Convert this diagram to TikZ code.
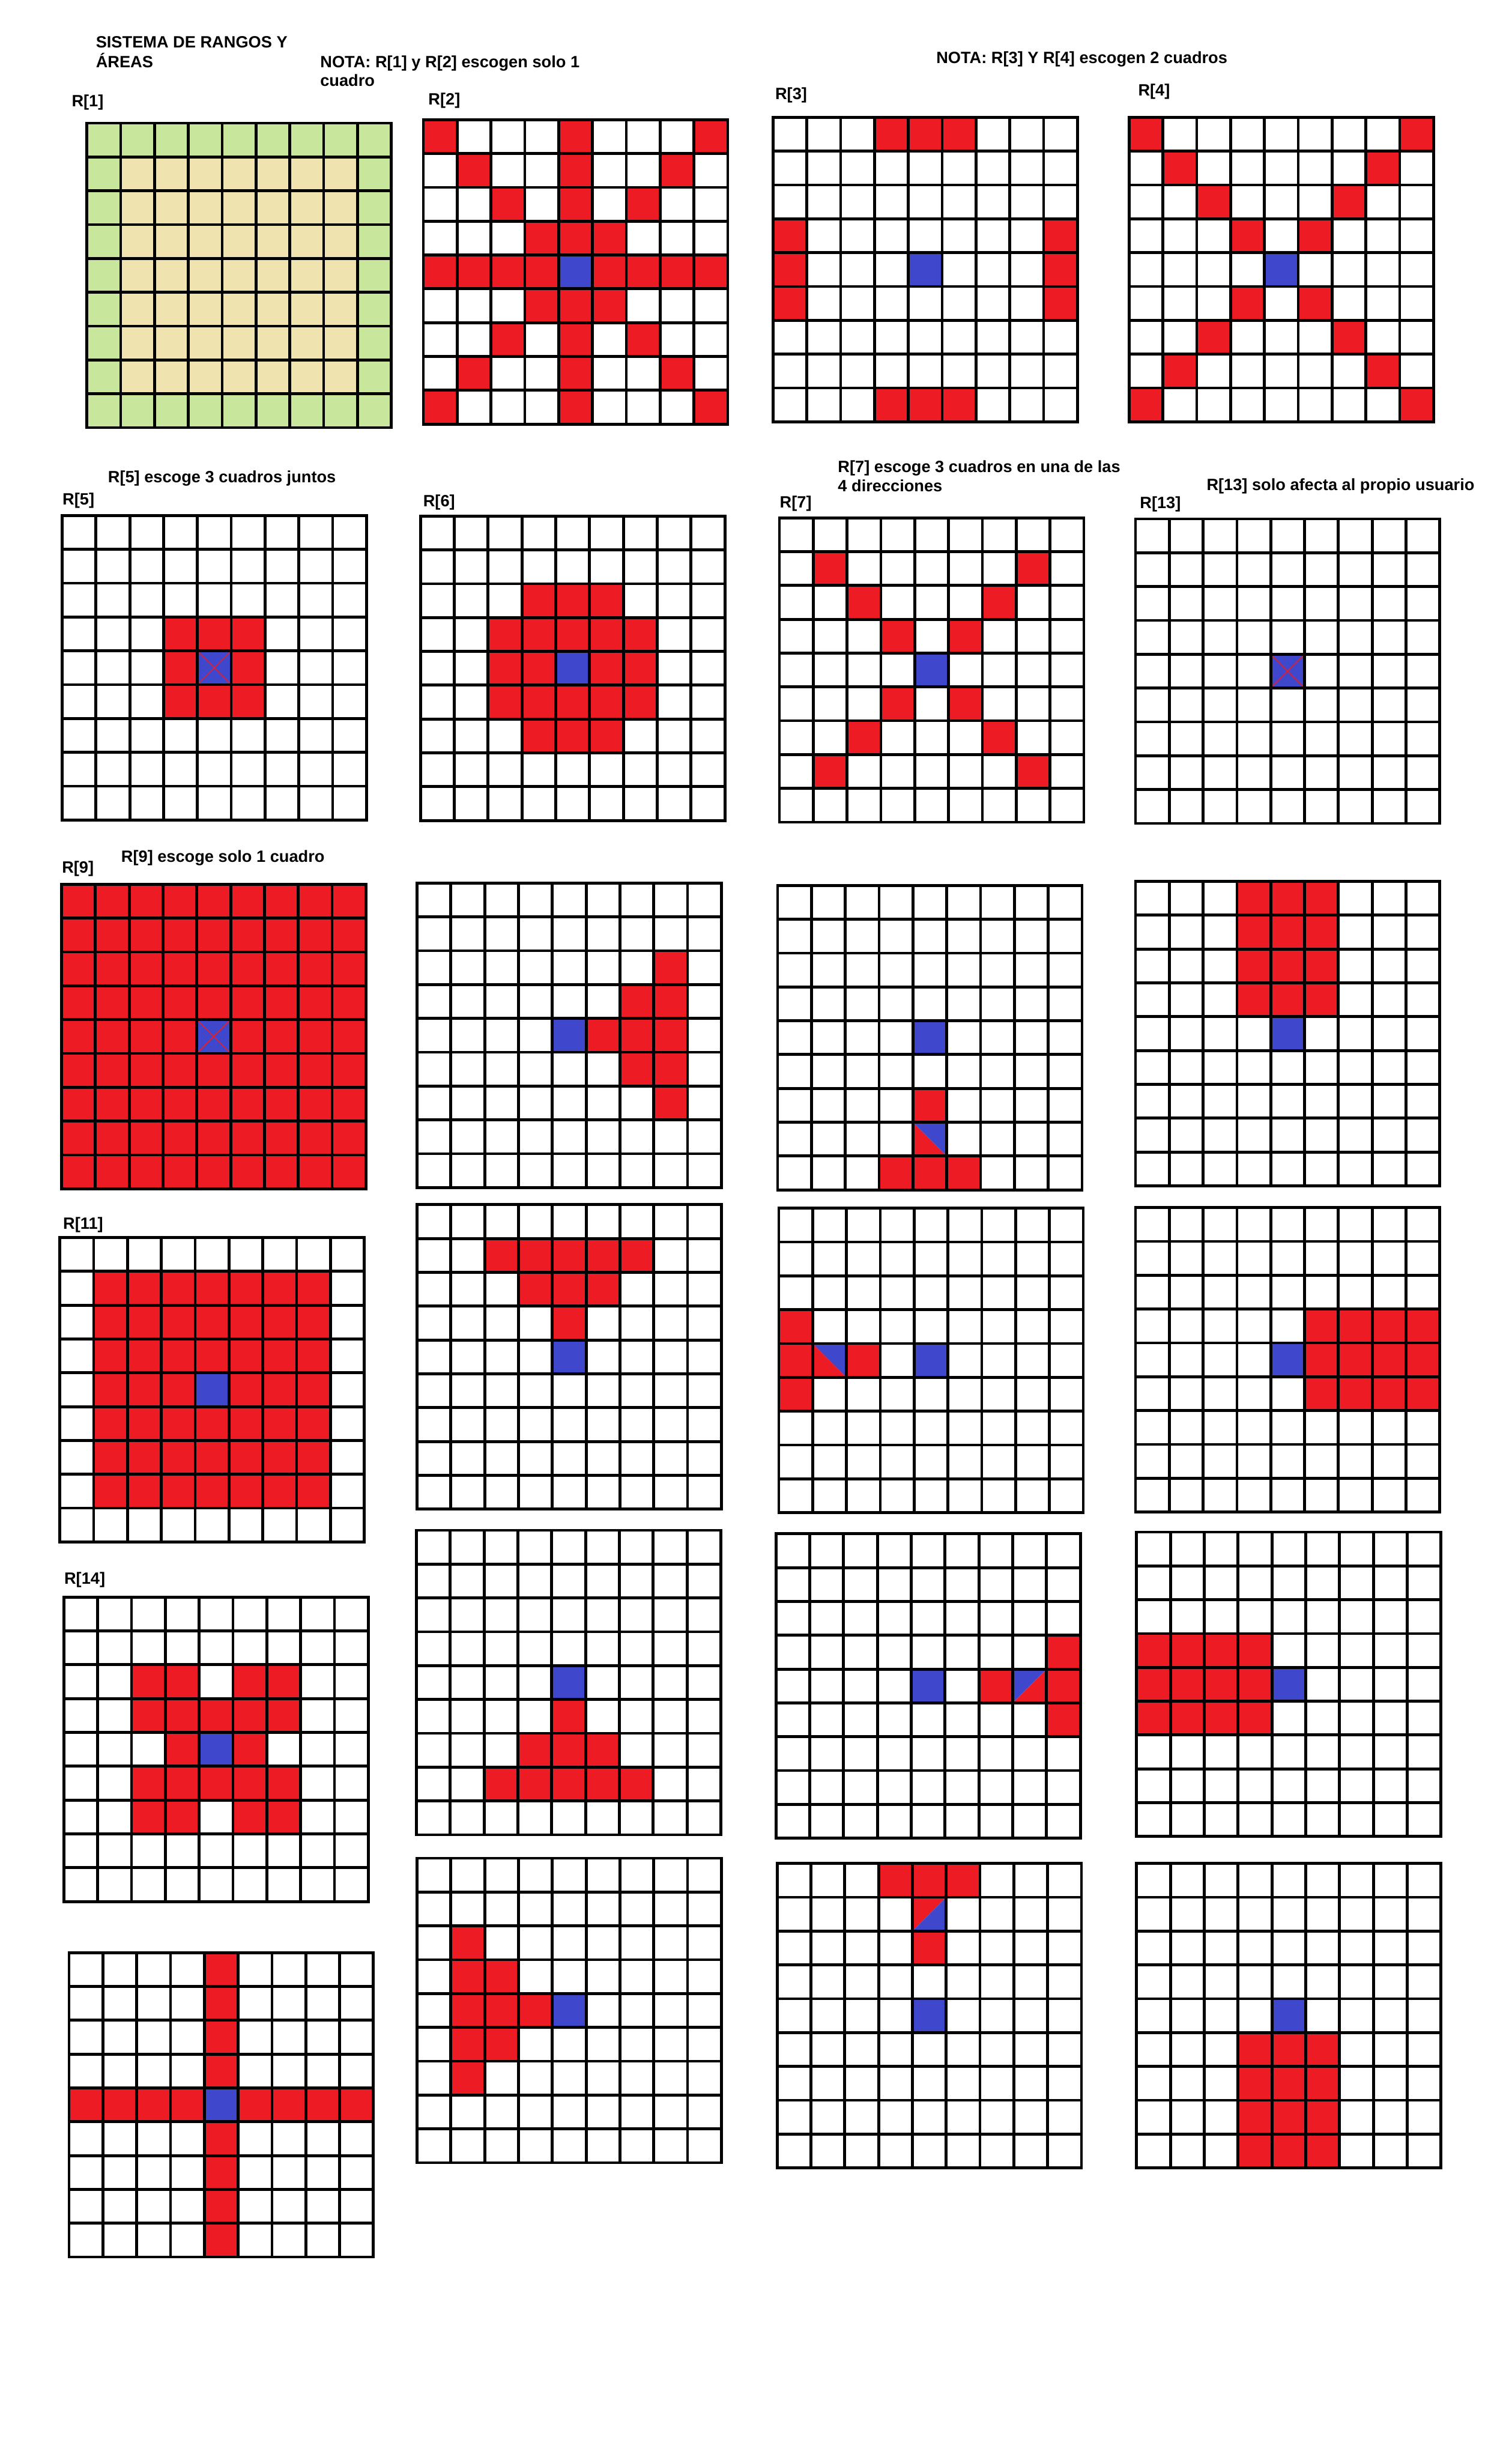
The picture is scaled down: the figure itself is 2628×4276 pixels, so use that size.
\documentclass[tikz,border=0pt]{standalone}
\usepackage{fontspec}
\setmainfont{Liberation Sans}
\newcommand\lblfont{\fontsize{7.1}{8.5}\selectfont\bfseries}
\definecolor{rd}{HTML}{ED1C24}
\definecolor{bl}{HTML}{3F48CC}
\definecolor{gr}{HTML}{C8E69C}
\definecolor{bg}{HTML}{EFE4B0}
\def\p{58.8}
\newcommand\cell[3]{\fill[#1] ({(#3)*\p},{(#2)*\p}) rectangle ++(\p,\p);}
\newcommand\xmark[2]{\draw[rd,line width=0.4pt] ({(#2)*\p},{(#1)*\p}) -- ({(#2+1)*\p},{(#1+1)*\p}) ({(#2)*\p},{(#1+1)*\p}) -- ({(#2+1)*\p},{(#1)*\p});}
% TL-BR diagonal, lower-left red, upper-right blue
\newcommand\halfA[2]{\fill[rd] ({#2*\p},{#1*\p}) -- ({#2*\p},{(#1+1)*\p}) -- ({(#2+1)*\p},{(#1+1)*\p}) -- cycle;
 \fill[bl] ({#2*\p},{#1*\p}) -- ({(#2+1)*\p},{#1*\p}) -- ({(#2+1)*\p},{(#1+1)*\p}) -- cycle;}
% BL-TR diagonal, upper-left red, lower-right blue
\newcommand\halfB[2]{\fill[rd] ({#2*\p},{#1*\p}) -- ({(#2+1)*\p},{#1*\p}) -- ({#2*\p},{(#1+1)*\p}) -- cycle;
 \fill[bl] ({(#2+1)*\p},{#1*\p}) -- ({(#2+1)*\p},{(#1+1)*\p}) -- ({#2*\p},{(#1+1)*\p}) -- cycle;}
% BL-TR diagonal, upper-left blue, lower-right red
\newcommand\halfC[2]{\fill[bl] ({#2*\p},{#1*\p}) -- ({(#2+1)*\p},{#1*\p}) -- ({#2*\p},{(#1+1)*\p}) -- cycle;
 \fill[rd] ({(#2+1)*\p},{#1*\p}) -- ({(#2+1)*\p},{(#1+1)*\p}) -- ({#2*\p},{(#1+1)*\p}) -- cycle;}
\newcommand\gridlines{\foreach \i in {0,...,9}{\draw[gl] ({\i*\p},0) -- ({\i*\p},{9*\p}); \draw[gl] (0,{\i*\p}) -- ({9*\p},{\i*\p});}}
\newcommand\blk[4]{\foreach \r in {#1,...,#2}{\foreach \c in {#3,...,#4}{\cell{rd}{\r}{\c}}}}
\tikzset{
 gl/.style={line width=1.25pt, line cap=rect, black},
 lbl/.style={anchor=base west, inner sep=0pt, font=\lblfont},
}
\begin{document}
\begin{tikzpicture}[x=0.25pt,y=-0.25pt]
\fill[white] (0,0) rectangle (2628,4276);
\useasboundingbox (0,0) rectangle (2628,4276);
% ---------- texts
\node[lbl] (t1) at (166,83) {SISTEMA DE RANGOS Y};
\node[lbl] (t2) at (166,117) {ÁREAS};
\node[lbl] (t3) at (556,117) {NOTA: R[1] y R[2] escogen solo 1};
\node[lbl] (t4) at (556,150) {cuadro};
\node[lbl] (t5) at (1627,110) {NOTA: R[3] Y R[4] escogen 2 cuadros};
\node[lbl] (l1) at (124,185) {R[1]};
\node[lbl] (l2) at (744,182) {R[2]};
\node[lbl] (l3) at (1347,173) {R[3]};
\node[lbl] (l4) at (1978,166) {R[4]};
\node[lbl] (t6) at (187,839) {R[5] escoge 3 cuadros juntos};
\node[lbl] (l5) at (108,877) {R[5]};
\node[lbl] (l6) at (735,881) {R[6]};
\node[lbl] (t7) at (1456,821) {R[7] escoge 3 cuadros en una de las};
\node[lbl] (t8) at (1456,854) {4 direcciones};
\node[lbl] (l7) at (1355,883) {R[7]};
\node[lbl] (l13) at (1981,884) {R[13]};
\node[lbl] (t9) at (2097,852) {R[13] solo afecta al propio usuario};
\node[lbl] (l9) at (107,1517) {R[9]};
\node[lbl] (t10) at (210,1499) {R[9] escoge solo 1 cuadro};
\node[lbl] (l11) at (109,2136) {R[11]};
\node[lbl] (l14) at (111,2753) {R[14]};
% ---------- R[1]
\begin{scope}[shift={(151,214)}]
 \fill[gr] (0,0) rectangle ({9*\p},{9*\p});
 \fill[bg] (\p,\p) rectangle ({8*\p},{8*\p});
 \gridlines
\end{scope}
% ---------- R[2]
\begin{scope}[shift={(736,208)}]
 \foreach \k in {0,...,8}{\cell{rd}{4}{\k}\cell{rd}{\k}{4}\cell{rd}{\k}{\k}\cell{rd}{\k}{8-\k}}
 \cell{bl}{4}{4}
 \gridlines
\end{scope}
% ---------- R[3]
\begin{scope}[shift={(1344,204)}]
 \foreach \k in {3,4,5}{\cell{rd}{0}{\k}\cell{rd}{8}{\k}\cell{rd}{\k}{0}\cell{rd}{\k}{8}}
 \cell{bl}{4}{4}
 \gridlines
\end{scope}
% ---------- R[4]
\begin{scope}[shift={(1963,204)}]
 \foreach \k in {0,...,8}{\cell{rd}{\k}{\k}\cell{rd}{\k}{8-\k}}
 \cell{bl}{4}{4}
 \gridlines
\end{scope}
% ---------- R[5]
\begin{scope}[shift={(108,896)}]
 \blk{3}{5}{3}{5}
 \cell{bl}{4}{4}\xmark{4}{4}
 \gridlines
\end{scope}
% ---------- R[6]
\begin{scope}[shift={(731,897)}]
 \blk{3}{5}{2}{6}
 \foreach \k in {3,4,5}{\cell{rd}{2}{\k}\cell{rd}{6}{\k}}
 \cell{bl}{4}{4}
 \gridlines
\end{scope}
% ---------- R[7]
\begin{scope}[shift={(1355,900)}]
 \foreach \k in {1,2,3,5,6,7}{\cell{rd}{\k}{\k}\cell{rd}{\k}{8-\k}}
 \cell{bl}{4}{4}
 \gridlines
\end{scope}
% ---------- R[13]
\begin{scope}[shift={(1974,902)}]
 \cell{bl}{4}{4}\xmark{4}{4}
 \gridlines
\end{scope}
% ---------- R[9]
\begin{scope}[shift={(107,1537)}]
 \blk{0}{8}{0}{8}
 \cell{bl}{4}{4}\xmark{4}{4}
 \gridlines
\end{scope}
% ---------- row 3, col 2
\begin{scope}[shift={(725,1535)}]
 \cell{rd}{4}{5}
 \blk{3}{5}{6}{6}
 \blk{2}{6}{7}{7}
 \cell{bl}{4}{4}
 \gridlines
\end{scope}
% ---------- row 3, col 3
\begin{scope}[shift={(1352,1539)}]
 \cell{rd}{6}{4}
 \halfA{7}{4}
 \blk{8}{8}{3}{5}
 \cell{bl}{4}{4}
 \gridlines
\end{scope}
% ---------- row 3, col 4
\begin{scope}[shift={(1974,1532)}]
 \blk{0}{3}{3}{5}
 \cell{bl}{4}{4}
 \gridlines
\end{scope}
% ---------- R[11]
\begin{scope}[shift={(104,2151)}]
 \blk{1}{7}{1}{7}
 \cell{bl}{4}{4}
 \gridlines
\end{scope}
% ---------- row 4, col 2
\begin{scope}[shift={(725,2094)}]
 \blk{1}{1}{2}{6}
 \blk{2}{2}{3}{5}
 \cell{rd}{3}{4}
 \cell{bl}{4}{4}
 \gridlines
\end{scope}
% ---------- row 4, col 3
\begin{scope}[shift={(1354,2100)}]
 \blk{3}{5}{0}{0}
 \halfA{4}{1}
 \cell{rd}{4}{2}
 \cell{bl}{4}{4}
 \gridlines
\end{scope}
% ---------- row 4, col 4
\begin{scope}[shift={(1974,2099)}]
 \blk{3}{5}{5}{8}
 \cell{bl}{4}{4}
 \gridlines
\end{scope}
% ---------- R[14]
\begin{scope}[shift={(111,2776)}]
 \blk{3}{3}{2}{6}
 \blk{5}{5}{2}{6}
 \foreach \k in {2,3,5,6}{\cell{rd}{2}{\k}\cell{rd}{6}{\k}}
 \cell{rd}{4}{3}\cell{rd}{4}{5}
 \cell{bl}{4}{4}
 \gridlines
\end{scope}
% ---------- row 5, col 2
\begin{scope}[shift={(724,2660)}]
 \cell{rd}{5}{4}
 \blk{6}{6}{3}{5}
 \blk{7}{7}{2}{6}
 \cell{bl}{4}{4}
 \gridlines
\end{scope}
% ---------- row 5, col 3
\begin{scope}[shift={(1349,2666)}]
 \cell{rd}{4}{6}
 \halfC{4}{7}
 \blk{3}{5}{8}{8}
 \cell{bl}{4}{4}
 \gridlines
\end{scope}
% ---------- row 5, col 4
\begin{scope}[shift={(1976,2663)}]
 \blk{3}{5}{0}{3}
 \cell{bl}{4}{4}
 \gridlines
\end{scope}
% ---------- row 6, col 1
\begin{scope}[shift={(120,3394)}]
 \foreach \k in {0,...,8}{\cell{rd}{4}{\k}\cell{rd}{\k}{4}}
 \cell{bl}{4}{4}
 \gridlines
\end{scope}
% ---------- row 6, col 2
\begin{scope}[shift={(725,3230)}]
 \blk{2}{6}{1}{1}
 \blk{3}{5}{2}{2}
 \cell{rd}{4}{3}
 \cell{bl}{4}{4}
 \gridlines
\end{scope}
% ---------- row 6, col 3
\begin{scope}[shift={(1351,3239)}]
 \blk{0}{0}{3}{5}
 \halfB{1}{4}
 \cell{rd}{2}{4}
 \cell{bl}{4}{4}
 \gridlines
\end{scope}
% ---------- row 6, col 4
\begin{scope}[shift={(1976,3239)}]
 \blk{5}{8}{3}{5}
 \cell{bl}{4}{4}
 \gridlines
\end{scope}
\end{tikzpicture}
\end{document}
